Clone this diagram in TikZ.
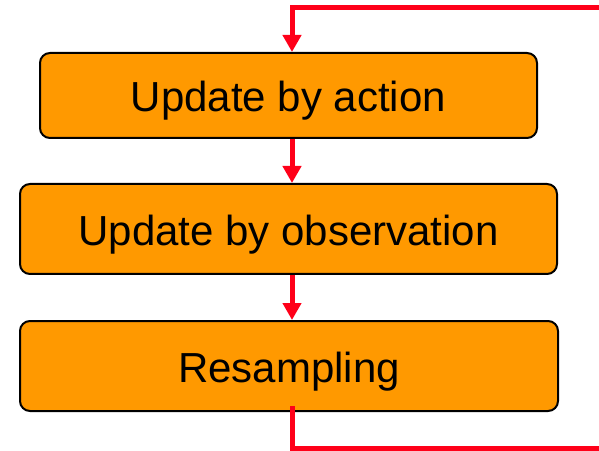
\documentclass[tikz,border=0pt]{standalone}
\usepackage{fontspec}
\setmainfont{Liberation Sans}
\usetikzlibrary{arrows.meta, calc}

\begin{document}
\begin{tikzpicture}[x=1pt, y=1pt]
    % Define colours
    \definecolor{borderColour}{HTML}{000000}
    \definecolor{fillColour}{HTML}{FF9900}
    \definecolor{flowColour}{HTML}{FF0019}

    % Define styles
    \tikzset{
        stepBox/.style={draw=borderColour, fill=fillColour, line width=2pt, rounded corners=10pt,
            minimum height=#1, inner sep=0pt, text height=33pt, text depth=0pt,
            font=\fontsize{42}{50}\selectfont},
        flowLine/.style={draw=flowColour, line width=5pt},
        flowArrow/.style={flowLine, -{Triangle[width=18pt, length=17pt]}}
    }

    % Fix the picture size
    \useasboundingbox (0,0) rectangle (599,450);

    % Draw the boxes
    \node[stepBox=85pt, minimum width=497pt] (action) at (288.5,354.5) {Update by action};
    \node[stepBox=90pt, minimum width=537pt] (observation) at (288.5,221) {Update by observation};
    \node[stepBox=90pt, minimum width=538pt] (resampling) at (289,84) {Resampling};

    % Define the loop coordinates
    \coordinate (loopX) at (292,0);
    \coordinate (loopStart) at (600,442);
    \coordinate (loopEnd) at (600,2);

    % Draw the arrows between the boxes
    \draw[flowArrow] (loopStart) -| (action.north -| loopX);
    \draw[flowArrow] (action.south -| loopX) -- (observation.north -| loopX);
    \draw[flowArrow] (observation.south -| loopX) -- (resampling.north -| loopX);
    \draw[flowLine] ($(resampling.south -| loopX)+(0,6)$) |- (loopEnd);

\end{tikzpicture}
\end{document}
